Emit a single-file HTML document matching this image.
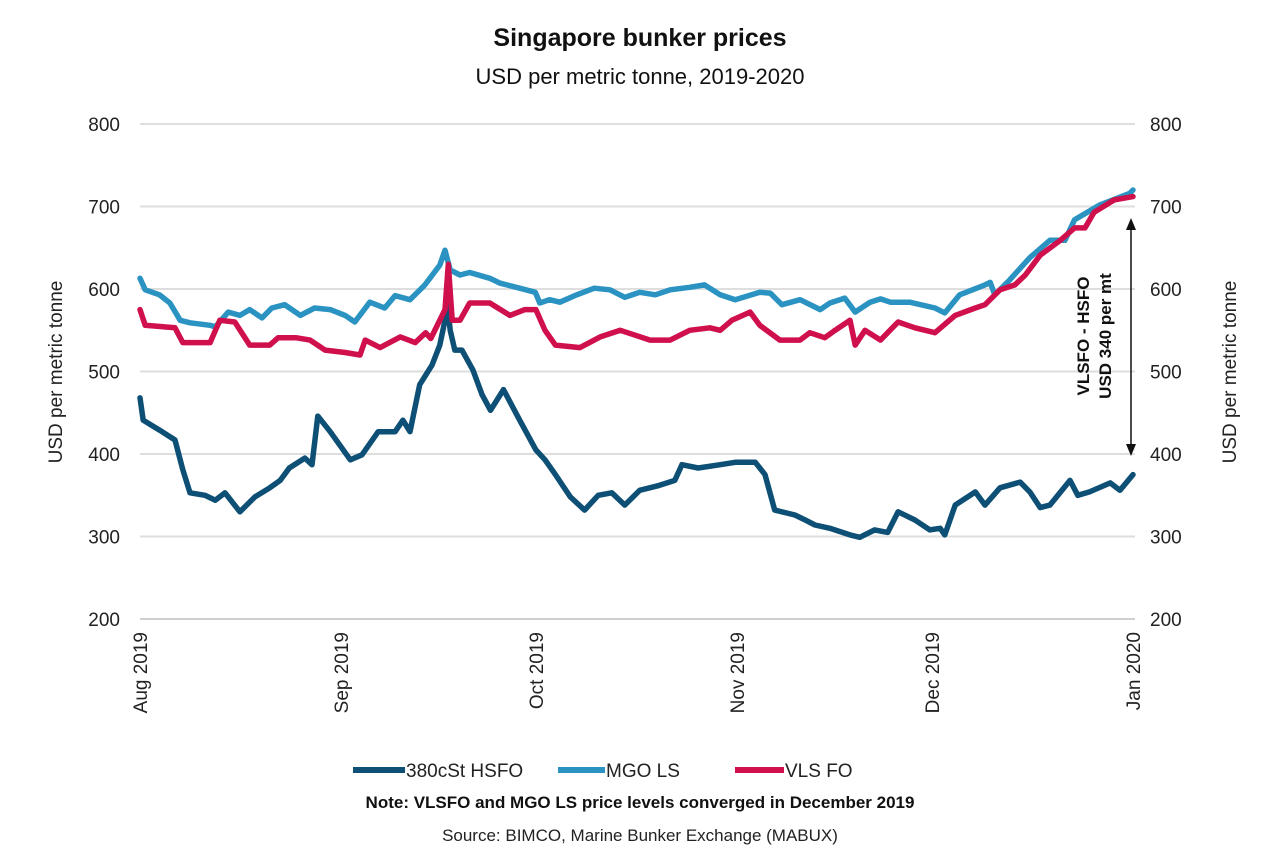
<!DOCTYPE html>
<html><head><meta charset="utf-8"><style>
body{margin:0;background:#fff;}
svg{display:block;font-family:"Liberation Sans",sans-serif;}
</style></head><body>
<svg id="chart" width="1279" height="851">
<text x="640" y="46" text-anchor="middle" font-size="25" font-weight="bold" fill="#111">Singapore bunker prices</text>
<text x="640" y="84" text-anchor="middle" font-size="22" fill="#111">USD per metric tonne, 2019-2020</text>
<g id="grid"></g><g id="lines"></g><g id="axes"></g>
<text transform="translate(62,372) rotate(-90)" text-anchor="middle" font-size="19" fill="#222">USD per metric tonne</text>
<text transform="translate(1236,372) rotate(-90)" text-anchor="middle" font-size="19" fill="#222">USD per metric tonne</text>
<g>
<line x1="1131" y1="226" x2="1131" y2="448" stroke="#111" stroke-width="1.5"/>
<polygon points="1131,218 1126,230 1136,230" fill="#111"/>
<polygon points="1131,456 1126,444 1136,444" fill="#111"/>
<text transform="translate(1089,336) rotate(-90)" text-anchor="middle" font-size="17" font-weight="bold" fill="#111">VLSFO - HSFO</text>
<text transform="translate(1111,336) rotate(-90)" text-anchor="middle" font-size="17" font-weight="bold" fill="#111">USD 340 per mt</text>
</g>
<g>
<g><line x1="353" y1="770" x2="405" y2="770" stroke="#0d4f75" stroke-width="6"/><text x="406" y="777" font-size="19" fill="#222">380cSt HSFO</text></g>
<g><line x1="558" y1="770" x2="605" y2="770" stroke="#2b93c2" stroke-width="6"/><text x="606" y="777" font-size="19" fill="#222">MGO LS</text></g>
<g><line x1="735" y1="770" x2="784" y2="770" stroke="#d0104c" stroke-width="6"/><text x="785" y="777" font-size="19" fill="#222">VLS FO</text></g>
</g>
<text x="640" y="808" text-anchor="middle" font-size="17" font-weight="bold" fill="#111">Note: VLSFO and MGO LS price levels converged in December 2019</text>
<text x="640" y="841" text-anchor="middle" font-size="17" fill="#222">Source: BIMCO, Marine Bunker Exchange (MABUX)</text>
</svg>
<script>
const yTicks=[200,300,400,500,600,700,800];
const xTickLabels=["Aug 2019","Sep 2019","Oct 2019","Nov 2019","Dec 2019","Jan 2020"];
const xTickDays=[0,31,61,92,122,153];
const hsfoDays=[0,0.5,3,5.4,6.6,7.7,10,11.6,13.1,15.4,17.7,20,21.6,23,25.4,26.5,27.4,29.3,32.4,34.2,36.7,39.3,40.5,41.6,43.1,45,46.2,47,47.3,47.8,48.5,49.6,51.3,52.7,54,56,58.5,61,62.4,64,66.3,68.5,70.6,72.7,74.7,77,80,82.4,83.5,86,89.4,91.7,94.8,96.3,97.8,100.9,102.5,104,106.3,109.4,110.9,113.2,115.2,116.8,119.4,121.7,123.3,124,125.6,128.7,130.2,132.5,135.6,137.1,138.7,140.2,143.3,144.5,146.3,149.5,151,153];
const hsfoVals=[468,441,429,417,381,353,350,344,353,330,348,359,368,383,395,387,446,427,393,399,427,427,441,427,484,508,532,562,587,550,526,526,502,472,453,478,441,405,393,375,348,332,350,353,338,356,362,368,387,383,387,390,390,375,332,326,320,314,310,302,299,308,305,330,320,308,310,302,338,354,338,359,366,354,335,338,368,350,354,365,356,375];
const mgoDays=[0,0.8,3,4.6,6.2,7.7,10.8,11.6,13.6,15.4,16.9,18.8,20.3,22.3,24.7,26.9,29.3,31.6,33.1,35.4,37.7,39.3,41.6,43.9,46.2,47,47.8,49.3,50.8,53.9,55.5,58.5,60.9,61.6,63.1,64.7,67,70,72.4,74.7,77,79.4,81.7,84.7,87,89.4,91.7,95.5,97.1,98.9,101.7,104.8,106.3,108.6,110.2,112.5,114.1,115.6,118.6,122.5,124,126.3,130.2,131,131.7,134,137.1,140.2,142.5,144,147.9,152.5,153];
const mgoVals=[613,599,593,583,562,559,556,554,572,568,575,565,577,581,568,577,575,568,560,584,577,592,587,605,629,647,623,617,620,613,607,601,596,583,587,584,592,601,599,590,596,593,599,602,605,593,587,596,595,581,587,575,583,589,572,584,588,584,584,577,571,593,605,608,593,611,638,659,659,684,702,716,720];
const vlsDays=[0,0.8,5.4,6.6,10.8,12.3,14.6,16.9,20,21.3,24,26.2,28.5,31.6,33.9,34.7,37,40.1,42.4,44,44.8,47,47.5,48.1,49.3,50.8,53.9,57,59.3,61,62.4,64,67.8,70.9,74,76.3,78.6,81.7,84.7,87.8,89.4,91.2,94,95.5,98.6,101.7,103.2,105.5,107.1,109.4,110.2,111.7,114.1,116.8,119.4,122.5,125.6,128.7,130.2,132.5,134.8,136.4,138.7,141.8,144,145.6,147,150.1,153];
const vlsVals=[575,556,553,535,535,562,560,532,532,541,541,538,526,523,520,538,529,542,535,547,540,575,630,562,562,583,583,568,575,575,550,532,529,542,550,544,538,538,550,553,550,562,572,556,538,538,547,541,550,562,532,550,538,560,553,547,568,577,581,599,605,617,641,659,674,674,693,708,712];
const X0=140,X1=1133,Y0=619,Y1=124;
function xs(d){return X0+(d-0)/(153-0)*(X1-X0);}
function ys(v){return Y0-(v-200)/(800-200)*(Y0-Y1);}
const NS="http://www.w3.org/2000/svg";
const grid=document.getElementById('grid'),axes=document.getElementById('axes'),lines=document.getElementById('lines');
yTicks.forEach(v=>{
 const l=document.createElementNS(NS,'line');
 l.setAttribute('x1',X0);l.setAttribute('x2',X1+2);l.setAttribute('y1',ys(v));l.setAttribute('y2',ys(v));
 l.setAttribute('stroke',v===200?'#cfcfcf':'#dedede');l.setAttribute('stroke-width','2');
 
 
 grid.appendChild(l);
 const t=document.createElementNS(NS,'text');
 t.setAttribute('x',120);t.setAttribute('y',ys(v)+7);t.setAttribute('text-anchor','end');t.setAttribute('font-size','19');t.setAttribute('fill','#222');
 t.textContent=v;
 
 
 axes.appendChild(t);
 const r=document.createElementNS(NS,'text');
 r.setAttribute('x',1150);r.setAttribute('y',ys(v)+7);r.setAttribute('font-size','19');r.setAttribute('fill','#222');
 r.textContent=v;
 
 
 axes.appendChild(r);
});
xTickLabels.forEach((lab,i)=>{
 const t=document.createElementNS(NS,'text');
 const x=xs(xTickDays[i])+7;
 t.setAttribute('transform','translate('+x+',632) rotate(-90)');
 t.setAttribute('text-anchor','end');t.setAttribute('font-size','19');t.setAttribute('fill','#222');
 t.textContent=lab;
 
 
 axes.appendChild(t);
});
function draw(days,vals,color,name){
 const p=document.createElementNS(NS,'polyline');
 p.setAttribute('points',days.map((d,i)=>xs(d).toFixed(1)+','+ys(vals[i]).toFixed(1)).join(' '));
 p.setAttribute('fill','none');p.setAttribute('stroke',color);p.setAttribute('stroke-width','5.5');p.setAttribute('stroke-linejoin','round');p.setAttribute('stroke-linecap','round');
 
 
 lines.appendChild(p);
}
draw(hsfoDays,hsfoVals,'#0d4f75','series-hsfo-line');
draw(mgoDays,mgoVals,'#2b93c2','series-mgo-line');
draw(vlsDays,vlsVals,'#d0104c','series-vlsfo-line');
</script>
</body></html>
